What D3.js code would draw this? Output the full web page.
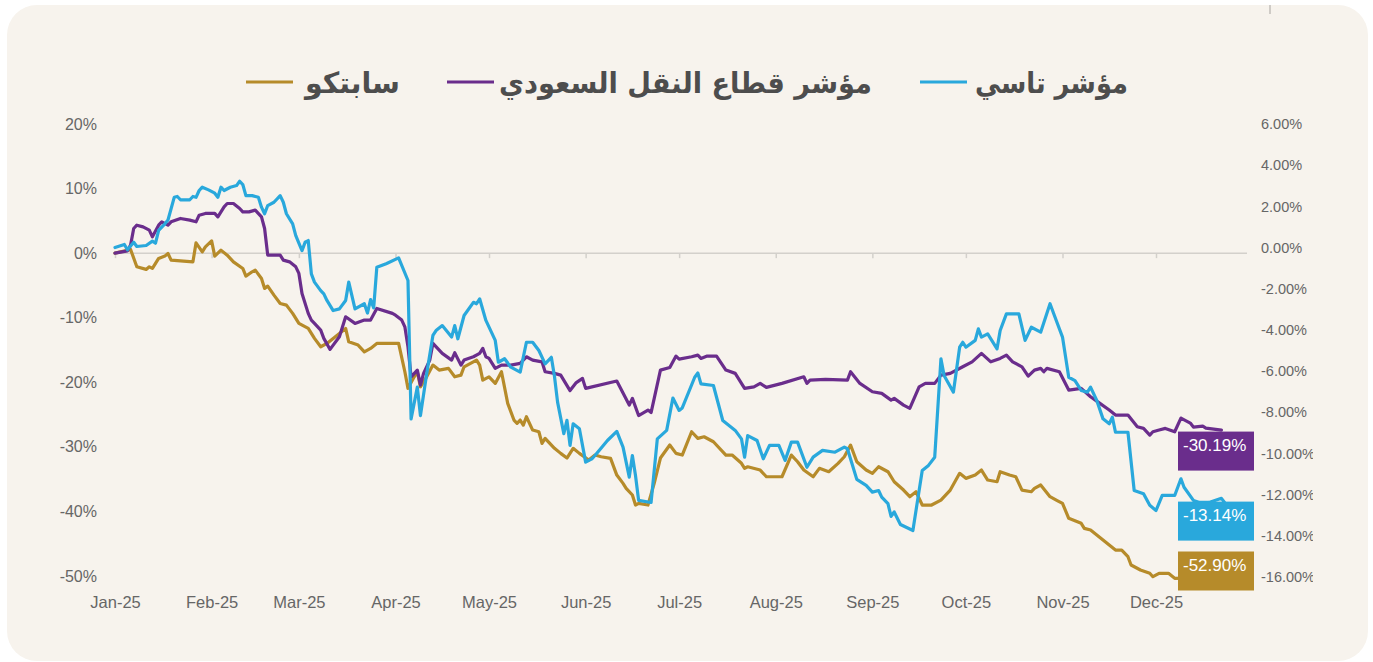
<!DOCTYPE html>
<html><head><meta charset="utf-8">
<script src="https://cdn.jsdelivr.net/npm/d3@7"></script>
<style>body{margin:0;background:#fff}svg{display:block}</style>
</head><body><svg id="c" width="1373" height="662"></svg>
<script>
// ---- data ----
const seriesNames = ["مؤشر تاسي", "مؤشر قطاع النقل السعودي", "سابتكو"];
const seriesColors = ["#29a8dc", "#6a2d8c", "#b68b2a"];
const endLabels = [-13.14, -30.19, -52.90];
const monthLabels = ["Jan-25","Feb-25","Mar-25","Apr-25","May-25","Jun-25","Jul-25","Aug-25","Sep-25","Oct-25","Nov-25","Dec-25"];
const leftTicks = [20, 10, 0, -10, -20, -30, -40, -50];
const rightTicks = [6, 4, 2, 0, -2, -4, -6, -8, -10, -12, -14, -16];

// [day of 2025 (0 = 1 Jan), % change]
const tasi = [[0,0],[3,0.15],[4,-0.11],[6,0.26],[7,0.05],[10,0.10],[12,0.31],[13,0.21],[14,0.83],[16,1.15],[17,1.34],[19,2.44],[20,2.48],[21,2.32],[24,2.32],[25,2.48],[26,2.44],[27,2.77],[28,2.93],[30,2.80],[32,2.64],[33,2.44],[34,2.93],[35,2.77],[37,2.93],[39,3.01],[40,3.22],[41,3.06],[42,2.52],[44,2.52],[46,2.44],[47,1.96],[48,1.64],[49,2.04],[51,2.20],[53,2.52],[54,2.20],[55,1.64],[57,1.15],[58,0.58],[60,-0.15],[61,0.26],[62,0.34],[63,-1.28],[64,-1.68],[66,-2.09],[67,-2.25],[68,-2.57],[70,-3.06],[72,-2.98],[74,-2.57],[75,-1.68],[77,-2.98],[80,-2.73],[81,-3.18],[82,-2.53],[83,-2.93],[84,-0.96],[87,-0.79],[91,-0.50],[94,-1.60],[95,-8.32],[97,-6.78],[98,-8.16],[100,-6.13],[102,-4.27],[103,-4.03],[105,-3.79],[108,-4.35],[109,-3.79],[110,-4.43],[112,-3.30],[115,-2.66],[116,-2.73],[117,-2.49],[119,-3.54],[122,-4.51],[123,-5.57],[125,-5.40],[127,-5.81],[130,-6.05],[132,-4.60],[134,-4.60],[136,-5.00],[138,-5.65],[140,-5.33],[141,-6.25],[142,-7.51],[144,-9.04],[145,-8.39],[146,-9.61],[147,-8.56],[149,-8.80],[151,-10.42],[153,-10.26],[154,-10.10],[158,-9.37],[161,-8.93],[163,-9.69],[165,-11.15],[166,-10.10],[167,-11.07],[168,-12.28],[172,-12.38],[174,-9.29],[177,-8.88],[179,-7.31],[181,-7.91],[182,-7.79],[186,-6.30],[187,-6.09],[188,-6.62],[192,-6.70],[195,-8.40],[199,-8.88],[201,-9.29],[202,-10.18],[203,-9.13],[206,-9.37],[208,-10.26],[210,-9.61],[213,-9.61],[215,-10.34],[217,-9.45],[219,-9.45],[222,-10.67],[224,-10.18],[227,-9.85],[231,-9.94],[234,-9.69],[235,-9.77],[238,-11.26],[241,-11.55],[243,-11.88],[245,-11.80],[246,-12.12],[248,-12.44],[249,-13.06],[250,-12.84],[252,-13.45],[256,-13.74],[259,-10.83],[261,-10.58],[263,-10.18],[265,-5.40],[266,-6.21],[269,-7.02],[271,-4.84],[272,-4.60],[273,-4.84],[276,-4.51],[277,-3.95],[278,-4.35],[280,-4.19],[283,-4.92],[284,-4.03],[286,-3.22],[290,-3.22],[292,-4.51],[294,-3.87],[297,-4.11],[300,-2.73],[302,-3.54],[304,-4.35],[306,-6.30],[308,-6.46],[310,-6.94],[312,-7.02],[313,-6.78],[315,-7.43],[317,-8.32],[319,-8.56],[320,-8.24],[321,-8.97],[325,-8.97],[327,-11.80],[330,-11.96],[332,-12.52],[334,-12.77],[336,-12.04],[340,-12.04],[342,-11.23],[343,-11.64],[346,-12.28],[348,-12.38],[351,-12.38],[355,-12.18],[356,-12.38]];

const transport = [[0,0],[4,0.36],[5,1.24],[6,3.82],[7,4.33],[9,4.07],[11,3.56],[12,2.52],[14,4.33],[15,4.85],[17,4.33],[18,4.85],[21,5.37],[24,5.11],[26,4.85],[27,5.88],[29,6.15],[32,6.15],[33,5.62],[35,7.17],[36,7.69],[38,7.69],[40,6.92],[41,6.39],[43,6.39],[45,6.66],[47,5.62],[48,3.82],[49,-0.31],[53,-0.31],[54,-1.08],[56,-1.35],[58,-2.12],[59,-3.14],[60,-6.24],[62,-9.33],[63,-10.37],[64,-10.88],[66,-11.92],[67,-13.20],[69,-14.91],[70,-14.24],[72,-12.96],[74,-9.86],[77,-10.88],[80,-10.37],[82,-10.37],[84,-8.56],[89,-9.33],[90,-9.60],[92,-10.37],[93,-11.41],[94,-14.50],[95,-19.15],[97,-18.11],[98,-20.43],[99,-18.62],[101,-16.56],[102,-13.98],[105,-15.53],[108,-16.56],[109,-15.43],[111,-17.34],[112,-16.56],[115,-16.05],[117,-15.53],[118,-14.75],[119,-16.05],[120,-16.30],[122,-17.85],[124,-17.34],[127,-17.34],[130,-17.07],[132,-16.05],[134,-16.56],[137,-16.83],[138,-18.37],[141,-18.62],[143,-18.89],[146,-21.28],[148,-20.05],[150,-19.40],[151,-20.94],[161,-19.81],[165,-23.53],[166,-22.49],[168,-25.15],[171,-24.30],[172,-24.69],[175,-18.11],[178,-17.72],[180,-15.94],[181,-16.41],[185,-16.05],[187,-15.79],[188,-16.30],[190,-15.94],[193,-15.94],[196,-18.11],[199,-18.62],[202,-20.94],[205,-20.70],[207,-20.17],[209,-20.79],[214,-20.17],[221,-19.15],[222,-20.17],[223,-19.66],[228,-19.55],[235,-19.66],[236,-18.37],[239,-20.17],[243,-21.47],[246,-21.72],[249,-22.76],[250,-22.49],[253,-23.53],[255,-24.04],[258,-20.70],[260,-20.17],[263,-20.17],[265,-18.89],[268,-18.62],[272,-17.60],[275,-16.83],[278,-15.53],[281,-16.83],[284,-16.30],[286,-15.79],[288,-16.83],[291,-17.60],[293,-19.04],[295,-18.11],[297,-17.85],[298,-18.37],[299,-17.85],[303,-18.37],[306,-21.21],[310,-20.94],[313,-22.24],[316,-23.27],[319,-24.30],[321,-25.08],[325,-25.08],[328,-26.89],[330,-27.14],[332,-28.17],[333,-27.66],[335,-27.40],[337,-27.14],[340,-27.66],[342,-25.54],[345,-26.32],[346,-26.93],[349,-26.78],[350,-27.09],[355,-27.40]];

const saptco = [[0,0],[5,0.57],[7,-2.12],[10,-2.52],[11,-2.12],[12,-2.37],[14,-0.82],[16,-0.46],[17,-0.05],[18,-1.08],[21,-1.19],[25,-1.35],[26,1.59],[28,0.20],[29,0.98],[31,1.90],[32,-0.46],[34,0.46],[36,-0.31],[38,-1.35],[41,-2.37],[42,-3.56],[44,-2.89],[45,-2.63],[47,-3.92],[48,-5.46],[49,-5.11],[51,-6.50],[53,-7.79],[55,-8.05],[57,-9.33],[59,-10.88],[62,-11.66],[64,-13.20],[66,-14.50],[68,-13.98],[72,-12.43],[74,-11.66],[75,-13.73],[78,-14.24],[80,-15.28],[82,-14.75],[84,-13.98],[91,-13.98],[93,-18.37],[94,-20.94],[96,-19.15],[97,-18.37],[98,-20.70],[100,-19.15],[102,-17.34],[104,-18.11],[107,-17.85],[109,-19.15],[111,-18.89],[112,-17.60],[116,-16.56],[117,-17.34],[118,-19.66],[120,-19.15],[122,-20.17],[124,-18.37],[126,-23.27],[128,-25.85],[129,-26.36],[130,-25.85],[131,-26.63],[132,-25.33],[134,-27.40],[136,-27.66],[137,-29.46],[138,-28.68],[141,-30.23],[143,-31.01],[145,-31.73],[147,-30.23],[149,-31.01],[152,-32.04],[154,-31.27],[156,-31.53],[159,-31.78],[161,-34.37],[163,-35.65],[164,-36.42],[166,-37.46],[167,-39.01],[168,-38.75],[171,-39.01],[173,-35.65],[175,-31.73],[178,-29.72],[180,-31.01],[182,-31.27],[185,-27.66],[187,-28.68],[189,-28.44],[192,-29.21],[196,-31.27],[198,-31.27],[201,-32.55],[202,-33.33],[203,-33.08],[207,-33.59],[209,-34.63],[214,-34.63],[217,-31.27],[219,-32.31],[221,-33.59],[224,-34.63],[226,-33.33],[229,-33.85],[232,-32.55],[234,-31.53],[236,-29.72],[238,-32.31],[241,-33.59],[243,-34.10],[245,-33.08],[248,-33.85],[250,-35.40],[253,-36.69],[255,-37.72],[257,-36.95],[259,-39.01],[262,-39.01],[265,-38.24],[268,-36.69],[271,-34.10],[273,-34.88],[276,-34.37],[278,-33.59],[280,-35.14],[283,-35.40],[284,-33.85],[287,-34.37],[289,-34.63],[291,-36.69],[294,-36.95],[295,-36.42],[297,-35.91],[300,-37.72],[302,-38.24],[304,-38.75],[306,-41.07],[310,-41.84],[311,-42.62],[313,-42.88],[315,-43.65],[317,-44.43],[319,-45.20],[321,-45.98],[323,-45.98],[325,-47.01],[326,-48.30],[329,-49.07],[332,-49.58],[333,-50.11],[335,-49.58],[338,-49.58],[340,-50.36],[348,-50.30],[355,-50.30]];

// ---- layout ----
const svg = d3.select("#c");
const dayToDate = d => new Date(2025, 0, 1 + d);
const monthDates = monthLabels.map((m, i) => new Date(2025, i, 1));
const fmt2 = d => d3.format(".2f")(d).replace("\u2212", "-") + "%";

svg.append("rect").attr("x", 7).attr("y", 5).attr("width", 1361).attr("height", 656)
  .attr("rx", 30).attr("fill", "#f7f3ed");
svg.append("line").attr("x1", 1270).attr("x2", 1270).attr("y1", 5).attr("y2", 14)
  .attr("stroke", "#cfcbc6").attr("stroke-width", 2);

const x = d3.scaleTime().domain([monthDates[0], monthDates[11]]).range([115, 1156]);
const yL = d3.scaleLinear().domain([-50, 20]).range([576, 124]);
const yR = d3.scaleLinear().domain([-16, 6]).range([577, 124]);

const axisFont = "'Liberation Sans', Arial, sans-serif";
const axisColor = "#666";

// zero line + month ticks
svg.append("line").attr("x1", 113).attr("x2", 1247)
  .attr("y1", yL(0)).attr("y2", yL(0)).attr("stroke", "#d3d0cb").attr("stroke-width", 1.5);
const tickAxis = svg.append("g").attr("transform", `translate(0,${yL(0)})`)
  .call(d3.axisBottom(x).tickValues(monthDates).tickSize(5).tickFormat(""));
tickAxis.select(".domain").remove();
tickAxis.selectAll("line").attr("stroke", "#d3d0cb").attr("stroke-width", 1.5);

// month labels
const xLab = svg.append("g").attr("transform", "translate(0,590)")
  .call(d3.axisBottom(x).tickValues(monthDates).tickSize(0).tickPadding(6)
    .tickFormat((d, i) => monthLabels[i]));
xLab.select(".domain").remove();
xLab.selectAll("text").attr("font-family", axisFont).attr("font-size", 16.5).attr("fill", axisColor);

// left axis
const la = svg.append("g").attr("transform", "translate(97,0)")
  .call(d3.axisLeft(yL).tickValues(leftTicks).tickSize(0).tickPadding(0).tickFormat(d => d + "%"));
la.select(".domain").remove();
la.selectAll("text").attr("font-family", axisFont).attr("font-size", 16).attr("fill", axisColor);

// right axis (clipped at right edge as in source)
svg.append("clipPath").attr("id", "rclip").append("rect")
  .attr("x", 1240).attr("y", 100).attr("width", 73).attr("height", 500);
const ra = svg.append("g").attr("clip-path", "url(#rclip)")
  .append("g").attr("transform", "translate(1261,0)")
  .call(d3.axisRight(yR).tickValues(rightTicks).tickSize(0).tickPadding(0).tickFormat(fmt2));
ra.select(".domain").remove();
ra.selectAll("text").attr("font-family", axisFont).attr("font-size", 14.5).attr("fill", axisColor);

// lines
const series = [
  { data: saptco, y: yL, color: seriesColors[2] },
  { data: transport, y: yL, color: seriesColors[1] },
  { data: tasi, y: yR, color: seriesColors[0] }
];
series.forEach(s => {
  const line = d3.line().x(d => x(dayToDate(d[0]))).y(d => s.y(d[1]));
  svg.append("path").datum(s.data).attr("d", line).attr("fill", "none")
    .attr("stroke", s.color).attr("stroke-width", 3.2)
    .attr("stroke-linejoin", "round").attr("stroke-linecap", "round");
});

// end labels
const boxH = 39, boxW = 76, boxX = 1178;
const labelSpecs = [
  { v: endLabels[1], y: yL, color: seriesColors[1] },
  { v: endLabels[0], y: yR, color: seriesColors[0] },
  { v: endLabels[2], y: yL, color: seriesColors[2] }
];
const maxCenter = yL(-50) - 5;
labelSpecs.forEach(l => {
  const cy = Math.min(l.y(l.v) + 3, maxCenter);
  const top = cy - boxH / 2;
  svg.append("rect").attr("x", boxX).attr("y", top).attr("width", boxW).attr("height", boxH)
    .attr("fill", l.color);
  svg.append("text").attr("x", boxX + 5).attr("y", top + 19)
    .attr("font-family", axisFont).attr("font-size", 17).attr("fill", "#fff")
    .text(fmt2(l.v));
});

// legend (RTL: right to left)
const legend = [
  { name: seriesNames[0], color: seriesColors[0], lineX: 920, textR: 1128, w: 153 },
  { name: seriesNames[1], color: seriesColors[1], lineX: 447, textR: 872, w: 373 },
  { name: seriesNames[2], color: seriesColors[2], lineX: 246, textR: 400, w: 95 }
];
legend.forEach(l => {
  svg.append("line").attr("x1", l.lineX).attr("x2", l.lineX + 47).attr("y1", 82).attr("y2", 82)
    .attr("stroke", l.color).attr("stroke-width", 3);
  svg.append("text").attr("x", l.textR).attr("y", 93).attr("text-anchor", "end")
    .attr("font-family", "'DejaVu Sans', sans-serif").attr("font-weight", "bold")
    .attr("font-size", 29).attr("fill", "#4d4d4d")
    .attr("textLength", l.w).attr("lengthAdjust", "spacingAndGlyphs").text(l.name);
});
</script>
</body></html>
